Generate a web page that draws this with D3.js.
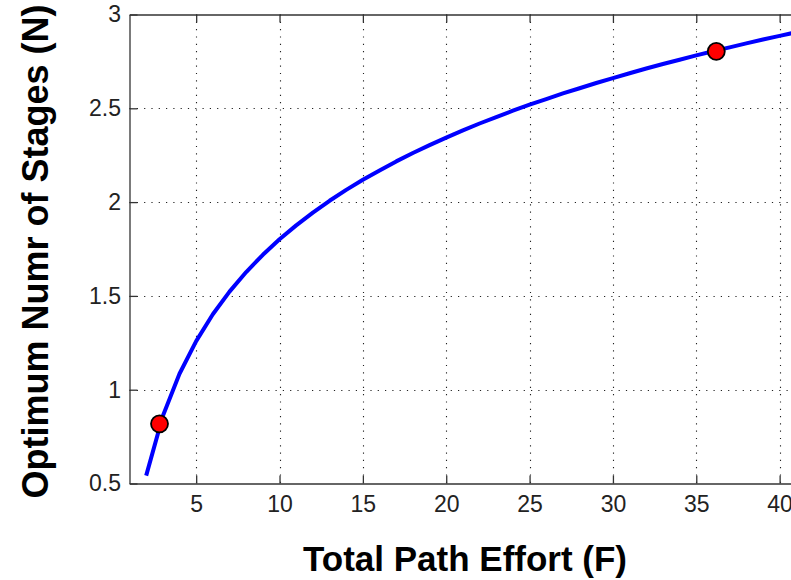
<!DOCTYPE html>
<html>
<head>
<meta charset="utf-8">
<script src="https://cdn.jsdelivr.net/npm/d3@7"></script>
<style>
  html, body { margin: 0; padding: 0; background: #fff; }
  svg { display: block; }
</style>
</head>
<body>
<svg id="chart" width="791" height="580"></svg>
<script>
// Path effort F and the optimum number of stages N
const effort = [2,3,4,5,6,7,8,9,10,11,12,13,14,15,16,17,18,19,20,21,22,23,24,25,26,27,28,29,30,31,32,33,34,35,36,37,38,39,40,41];
const stages = [0.542,0.860,1.085,1.259,1.402,1.523,1.627,1.719,1.802,1.876,1.944,2.007,2.065,2.119,2.169,2.217,2.262,2.304,2.344,2.382,2.419,2.453,2.487,2.519,2.549,2.579,2.607,2.635,2.661,2.687,2.712,2.736,2.759,2.782,2.804,2.825,2.846,2.867,2.886,2.906];

// Highlighted design points
const markF = [2.8, 36.2];
const markN = [0.818, 2.803];

const xTicks = [5,10,15,20,25,30,35,40];
const yTicks = [0.5,1,1.5,2,2.5,3];
const xLabel = "Total Path Effort (F)";
const yLabel = "Optimum Numr of Stages (N)";

const svg = d3.select("#chart");
const plotLeft = 129.5, plotTop = 14.5, plotBottom = 483.5, plotRight = 129.5 + 40 * 16.67;

const x = d3.scaleLinear().domain([1, 41]).range([plotLeft, plotRight]);
const y = d3.scaleLinear().domain([0.5, 3]).range([plotBottom, plotTop]);

const tickFont = "'Liberation Sans Narrow', 'Liberation Sans', Arial, sans-serif";
const titleFont = "'Liberation Sans', Arial, sans-serif";

// dotted grid
const grid = svg.append("g").attr("stroke", "#222").attr("stroke-width", 1.1)
  .attr("stroke-dasharray", "1.2,6.1");
grid.selectAll("line.gx").data(xTicks).join("line")
  .attr("x1", d => Math.round(x(d)) + 0.5).attr("x2", d => Math.round(x(d)) + 0.5)
  .attr("y1", plotTop).attr("y2", plotBottom);
grid.selectAll("line.gy").data(yTicks.slice(1, -1)).join("line")
  .attr("x1", plotLeft).attr("x2", plotRight)
  .attr("y1", d => Math.round(y(d)) + 0.5).attr("y2", d => Math.round(y(d)) + 0.5);

// axes with inward ticks
const axisStyle = g => {
  g.select(".domain").attr("stroke", "#333").attr("stroke-width", 1.3);
  g.selectAll(".tick line").attr("stroke", "#333").attr("stroke-width", 1.3);
  g.selectAll(".tick text").attr("font-family", tickFont).attr("font-size", 23).attr("fill", "#222");
};

svg.append("g").attr("transform", `translate(0,${plotBottom})`)
  .call(d3.axisBottom(x).tickValues(xTicks).tickSizeInner(-8).tickSizeOuter(0).tickPadding(12))
  .call(axisStyle);
svg.append("g").attr("transform", `translate(0,${plotTop})`)
  .call(d3.axisTop(x).tickValues(xTicks).tickSizeInner(-8).tickSizeOuter(0).tickFormat(""))
  .call(axisStyle);
svg.append("g").attr("transform", `translate(${plotLeft},0)`)
  .call(d3.axisLeft(y).tickValues(yTicks).tickSizeInner(-8).tickSizeOuter(0).tickPadding(8.5).tickFormat(d3.format("")))
  .call(axisStyle);

// curve
const pts = effort.map((f, i) => [f, stages[i]]);
svg.append("path").datum(pts)
  .attr("fill", "none").attr("stroke", "#0000ff").attr("stroke-width", 4)
  .attr("stroke-linejoin", "round")
  .attr("d", d3.line().x(d => x(d[0])).y(d => y(d[1])));

// markers
svg.selectAll("circle.mark").data(markF).join("circle")
  .attr("cx", d => x(d)).attr("cy", (d, i) => y(markN[i])).attr("r", 8.5)
  .attr("fill", "#ff0000").attr("stroke", "#000").attr("stroke-width", 1.8);

// axis titles
svg.append("text").attr("x", 465).attr("y", 571).attr("text-anchor", "middle")
  .attr("font-family", titleFont).attr("font-weight", "bold")
  .attr("font-size", 35).attr("fill", "#000").text(xLabel);
svg.append("text").attr("transform", "translate(48,251.5) rotate(-90)").attr("text-anchor", "middle")
  .attr("font-family", titleFont).attr("font-weight", "bold")
  .attr("font-size", 36).attr("fill", "#000").text(yLabel);
</script>
</body>
</html>
